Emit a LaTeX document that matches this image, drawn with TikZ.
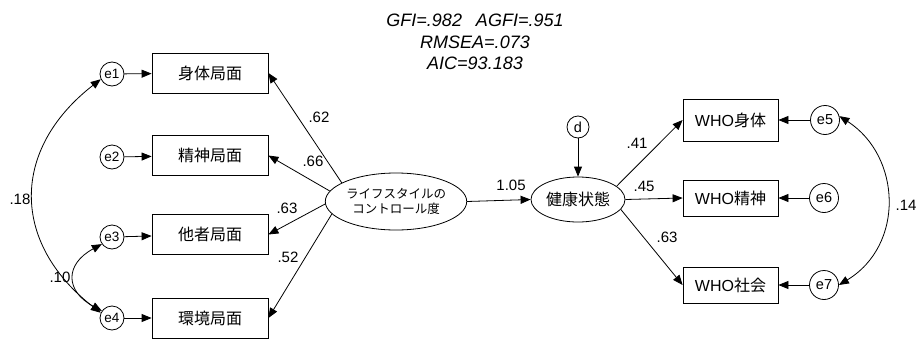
\documentclass[tikz,border=0pt]{standalone}
\usepackage{fontspec}
\setmainfont{Liberation Sans}
\newfontfamily\jp{Noto Sans CJK JP}
\usetikzlibrary{arrows.meta,shapes.geometric}
\begin{document}
\begin{tikzpicture}[x=1pt,y=-1pt,
  line width=0.8pt,
  tip/.style={-{Triangle[length=10pt,width=8pt]}},
  dtip/.style={{Triangle[length=10pt,width=8pt]}-{Triangle[length=10pt,width=8pt]}},
  obsbox/.style={draw, rectangle, minimum width=116pt, minimum height=40pt, inner sep=0pt, font=\fontsize{16}{18}\selectfont},
  whobox/.style={draw, rectangle, minimum width=95pt, minimum height=36pt, inner sep=0pt, font=\fontsize{16}{18}\selectfont},
  errsmall/.style={draw, circle, minimum size=24pt, inner sep=0pt, font=\fontsize{13.5}{15}\selectfont},
  errbig/.style={draw, circle, minimum size=29pt, inner sep=0pt, font=\fontsize{14.5}{16}\selectfont},
  latent/.style={draw, ellipse, inner sep=0pt},
  lab/.style={inner sep=0pt, font=\fontsize{15}{17}\selectfont}
]
\useasboundingbox (0,0) rectangle (917,340);
\clip (0,0) rectangle (917,340);

% fit indices
\node[align=center, font=\fontsize{18}{21.5}\selectfont\itshape] (fit) at (475,42)
  {GFI=.982\hspace{14pt}AGFI=.951\\RMSEA=.073\\AIC=93.183};

% left observed
\node[obsbox] (B1) at (210,73) {\jp 身体局面};
\node[obsbox] (B2) at (210,155.5) {\jp 精神局面};
\node[obsbox] (B3) at (210,234.5) {\jp 他者局面};
\node[obsbox] (B4) at (210,318) {\jp 環境局面};

\node[errsmall] (e1) at (112,74) {e1};
\node[errsmall] (e2) at (112,157) {e2};
\node[errsmall] (e3) at (112,237) {e3};
\node[errsmall] (e4) at (112,318) {e4};

% latents
\node[latent, minimum width=138pt, minimum height=57pt, align=center,
      font=\fontsize{12.5}{15}\selectfont\jp] (L) at (396,201.5) {ライフスタイルの\\コントロール度};
\node[latent, minimum width=94pt, minimum height=45pt,
      font=\fontsize{16}{18}\selectfont\jp] (H) at (578,199.5) {健康状態};
\node[draw, circle, minimum size=22pt, inner sep=0pt, font=\fontsize{14.5}{16}\selectfont] (d) at (578,127) {d};

% right observed
\node[whobox, minimum height=42pt] (W1) at (730.5,120) {WHO{\jp 身体}};
\node[whobox] (W2) at (730.5,198) {WHO{\jp 精神}};
\node[whobox] (W3) at (730.5,285) {WHO{\jp 社会}};

\node[errbig] (e5) at (825,120) {e5};
\node[errbig] (e6) at (824,198) {e6};
\node[errbig] (e7) at (824,285) {e7};

% error arrows
\draw[tip] (e1) -- (B1);
\draw[tip] (e2) -- (B2);
\draw[tip] (e3) -- (B3);
\draw[tip] (e4) -- (B4);
\draw[tip] (e5) -- (W1);
\draw[tip] (e6) -- (W2);
\draw[tip] (e7) -- (W3);
\draw[tip] (d) -- (H);

% loadings
\draw[tip] (L.161) -- (B1.east);
\draw[tip] (L.171) -- (B2.east);
\draw[tip] (L.182) -- (B3.east);
\draw[tip] (L.191) -- (B4.east);
\draw[tip] (L.east) -- (H.west);
\draw[tip] (H.19) -- (W1.west);
\draw[tip] (H.east) -- (W2.west);
\draw[tip] (H.-13) -- (W3.west);

% covariances
\draw[dtip] (e1.205) .. controls +(-90,70) and +(-90,-70) .. (e4.155);
\draw[dtip] (e3.215) .. controls +(-37,20) and +(-37,-20) .. (e4.145);
\draw[dtip] (e5.15) .. controls +(62,40) and +(66,-40) .. (e7.0);

% labels
\node[lab] (l1) at (319,117) {.62};
\node[lab] (l2) at (313,161) {.66};
\node[lab] (l3) at (287,208) {.63};
\node[lab] (l4) at (288,257) {.52};
\node[lab] (l5) at (20,199) {.18};
\node[lab] (l6) at (60,277) {.10};
\node[lab] (l7) at (511,185) {1.05};
\node[lab] (l8) at (637,143) {.41};
\node[lab] (l9) at (644,186) {.45};
\node[lab] (l10) at (667,237) {.63};
\node[lab] (l11) at (906,205) {.14};
\end{tikzpicture}
\end{document}
